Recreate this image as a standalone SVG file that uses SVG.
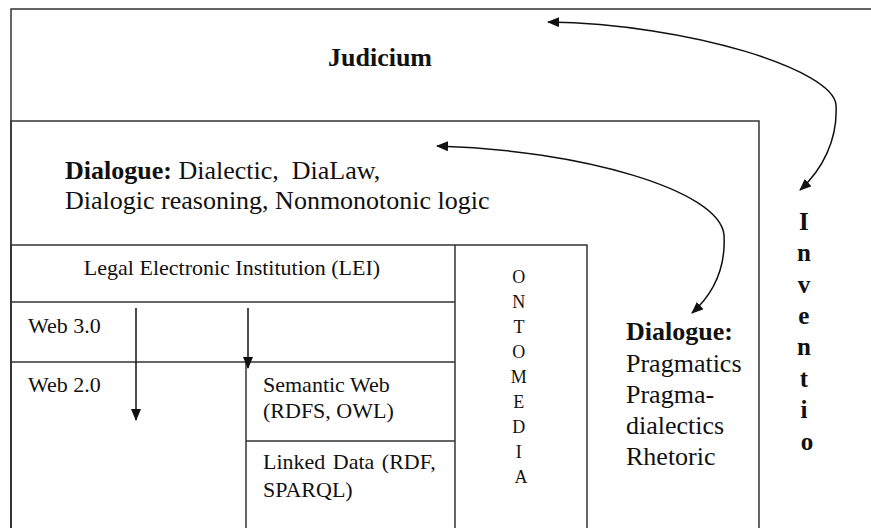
<svg xmlns="http://www.w3.org/2000/svg" width="871" height="528" viewBox="0 0 871 528">
<defs>
<style>
.box{fill:none;stroke:#333;stroke-width:1.5}
.conn{fill:none;stroke:#111;stroke-width:1.5}
</style>
<marker id="ah" viewBox="0 0 12 10" refX="11" refY="5" markerWidth="12" markerHeight="10" markerUnits="userSpaceOnUse" orient="auto-start-reverse">
<path d="M0,0 L12,5 L0,10 Z" fill="#111"/>
</marker>
</defs>
<rect width="871" height="528" fill="#fff"/>
<g font-family="'Liberation Serif', 'DejaVu Serif', serif" fill="#111">

<g id="judicium">
<path class="box" d="M11,540 V9 H871"/>
<text x="380" y="66" font-size="26" font-weight="bold" text-anchor="middle">Judicium</text>
</g>

<g id="dialogue-box">
<path class="box" d="M11,540 V121 H759 V540"/>
<text x="65" y="179" font-size="26" xml:space="preserve"><tspan font-weight="bold">Dialogue:</tspan> Dialectic,  DiaLaw,</text>
<text x="65" y="209" font-size="26">Dialogic reasoning, Nonmonotonic logic</text>
</g>

<g id="lei-table">
<path class="box" d="M11,540 V245 H587 V540"/>
<text x="232" y="275" font-size="22" text-anchor="middle">Legal Electronic Institution (LEI)</text>
</g>

<g id="ontomedia">
<path class="box" d="M455,245 V540"/>
<text font-size="18" text-anchor="middle">
<tspan x="521" y="283">O</tspan>
<tspan x="521" y="308">N</tspan>
<tspan x="521" y="333">T</tspan>
<tspan x="521" y="358">O</tspan>
<tspan x="521" y="383">M</tspan>
<tspan x="521" y="408">E</tspan>
<tspan x="521" y="433">D</tspan>
<tspan x="521" y="458">I</tspan>
<tspan x="521" y="483">A</tspan>
</text>
</g>

<g id="web30">
<path class="box" d="M11,302 H455"/>
<text x="28" y="333" font-size="22">Web 3.0</text>
</g>

<g id="web20">
<path class="box" d="M11,362 H455"/>
<text x="28" y="392" font-size="22">Web 2.0</text>
</g>

<g id="semantic-web">
<path class="box" d="M246,362 V540 M246,441 H455"/>
<text x="263" y="392" font-size="22">Semantic Web</text>
<text x="263" y="418" font-size="22">(RDFS, OWL)</text>
</g>

<g id="linked-data">
<text x="263" y="469" font-size="22" word-spacing="2">Linked Data (RDF,</text>
<text x="263" y="497" font-size="22">SPARQL)</text>
</g>

<g id="dialogue-right">
<text font-size="26">
<tspan font-weight="bold" x="626" y="340">Dialogue:</tspan>
<tspan x="626" y="372">Pragmatics</tspan>
<tspan x="626" y="403">Pragma-</tspan>
<tspan x="626" y="434">dialectics</tspan>
<tspan x="626" y="465">Rhetoric</tspan>
</text>
</g>

<g id="inventio">
<text font-size="25" font-weight="bold" text-anchor="middle">
<tspan x="807" y="230">I</tspan>
<tspan x="807" y="261">n</tspan>
<tspan x="807" y="293">v</tspan>
<tspan x="807" y="324">e</tspan>
<tspan x="807" y="355">n</tspan>
<tspan x="807" y="387">t</tspan>
<tspan x="807" y="418">i</tspan>
<tspan x="807" y="450">o</tspan>
</text>
</g>
</g>

<g id="connectors">
<path class="conn" d="M548,22 C690,24 834,70 836,105 C838,140 822,170 800,190" marker-start="url(#ah)" marker-end="url(#ah)"/>
<path class="conn" d="M437,146 C580,150 720,190 724,235 C726,270 712,295 692,313" marker-start="url(#ah)" marker-end="url(#ah)"/>
<path class="conn" d="M136,308 V420" marker-end="url(#ah)"/>
<path class="conn" d="M248,308 V368" stroke="#777" marker-end="url(#ah)"/>
</g>
</svg>
